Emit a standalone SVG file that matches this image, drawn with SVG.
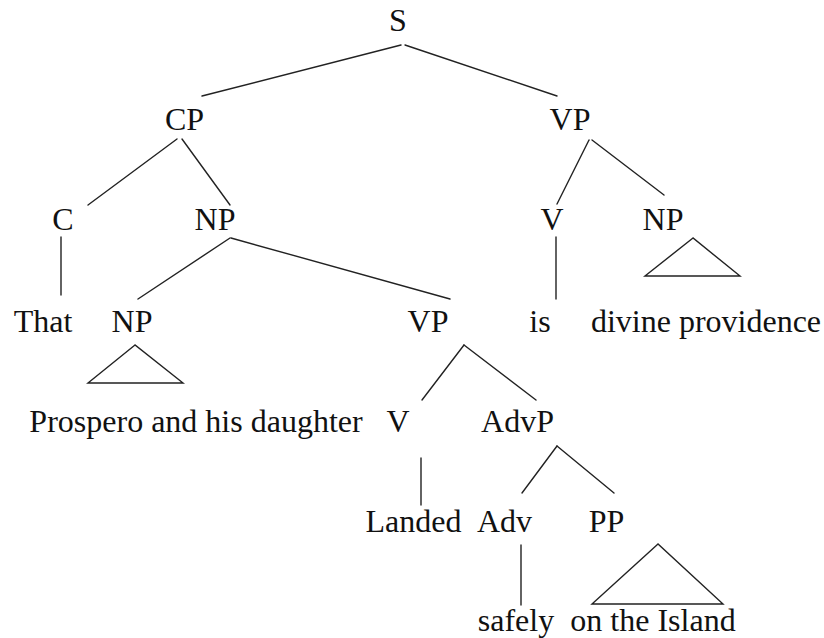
<svg xmlns="http://www.w3.org/2000/svg" width="824" height="638" viewBox="0 0 824 638">
<style>
text{font-family:"Liberation Serif","Times New Roman",serif;font-size:32px;fill:#111;text-anchor:middle}
.e{stroke:#222;stroke-width:1.4;fill:none;stroke-linecap:round;stroke-linejoin:miter}
</style>
<rect width="824" height="638" fill="#fff"/>
<g id="connectors" class="e">
<line x1="401" y1="45" x2="202" y2="96"/>
<line x1="405" y1="45" x2="557" y2="96"/>
<line x1="177" y1="139" x2="88" y2="205"/>
<line x1="182" y1="139" x2="230" y2="205"/>
<line x1="589" y1="140" x2="557" y2="204"/>
<line x1="592" y1="140" x2="664" y2="195"/>
<line x1="61" y1="237" x2="61" y2="295"/>
<line x1="230" y1="238" x2="138" y2="299"/>
<line x1="231" y1="238" x2="450" y2="299"/>
<line x1="556" y1="237" x2="556" y2="299"/>
<polygon points="693,238 645,276 740,276"/>
<polygon points="135,345 88,383 183,383"/>
<line x1="464" y1="345" x2="422" y2="400"/>
<line x1="464" y1="345" x2="536" y2="400"/>
<line x1="421" y1="458" x2="421" y2="505"/>
<line x1="557" y1="446" x2="522" y2="493"/>
<line x1="557" y1="446" x2="614" y2="493"/>
<line x1="521" y1="545" x2="521" y2="605"/>
<polygon points="658,544 592,604 723,604"/>
</g>
<g id="n-S"><text x="398" y="31">S</text></g>
<g id="n-CP"><text x="184.5" y="130">CP</text></g>
<g id="n-VP1"><text x="570" y="130">VP</text></g>
<g id="n-C"><text x="63" y="230">C</text></g>
<g id="n-NP1"><text x="215" y="230">NP</text></g>
<g id="n-V1"><text x="552" y="230">V</text></g>
<g id="n-NP2"><text x="663" y="230">NP</text></g>
<g id="n-That"><text x="43" y="332">That</text></g>
<g id="n-NP3"><text x="132" y="332">NP</text></g>
<g id="n-VP2"><text x="428" y="332">VP</text></g>
<g id="n-is"><text x="540" y="332">is</text></g>
<g id="n-divine"><text x="706" y="332">divine providence</text></g>
<g id="n-prospero"><text x="196" y="432">Prospero and his daughter</text></g>
<g id="n-V2"><text x="398" y="432">V</text></g>
<g id="n-AdvP"><text x="517.5" y="432">AdvP</text></g>
<g id="n-Landed"><text x="413.5" y="532">Landed</text></g>
<g id="n-Adv"><text x="504.5" y="532">Adv</text></g>
<g id="n-PP"><text x="606.5" y="532">PP</text></g>
<g id="n-safely"><text x="516" y="631">safely</text></g>
<g id="n-island"><text x="653" y="631">on the Island</text></g>
</svg>
